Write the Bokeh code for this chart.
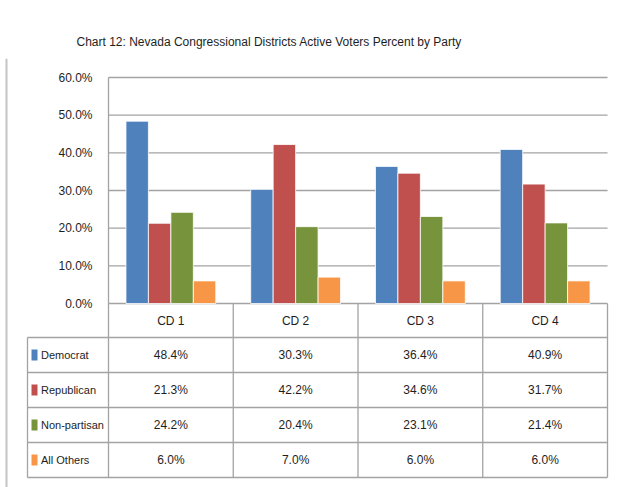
from bokeh.plotting import figure
from bokeh.models import ColumnDataSource, Range1d, FixedTicker, PrintfTickFormatter, LinearAxis
from bokeh.core.properties import value
from bokeh.embed import file_html
from bokeh.resources import INLINE

# ---------------- data ----------------
categories = ["CD 1", "CD 2", "CD 3", "CD 4"]
parties = ["Democrat", "Republican", "Non-partisan", "All Others"]
democrat = [48.4, 30.3, 36.4, 40.9]
republican = [21.3, 42.2, 34.6, 31.7]
non_partisan = [24.2, 20.4, 23.1, 21.4]
all_others = [6.0, 7.0, 6.0, 6.0]
y_ticks = [0, 10, 20, 30, 40, 50, 60]
title_text = "Chart 12: Nevada Congressional Districts Active Voters Percent by Party"

series = [democrat, republican, non_partisan, all_others]
colors = ["#4F81BD", "#C0504D", "#77933C", "#F79646"]

FONT = "Liberation Sans"
GRID = "#a3a3a3"
TEXT = "#1e1e1e"

# ---------------- geometry (pixels -> data units) ----------------
W, H = 617, 487
TOP = 58                      # title panel height
PLOT_LEFT = 108               # px of plot-area left edge
ZERO_Y = 303                  # px of the 0% line
PX_X = 124.75                 # px per category
PX_Y = 226 / 60               # px per percent
x_start = -PLOT_LEFT / PX_X
x_end = (W - PLOT_LEFT) / PX_X
y_end = (ZERO_Y - TOP) / PX_Y
y_start = -(H - ZERO_Y) / PX_Y
HEAD_H = 34 / PX_Y
ROW_H = 35 / PX_Y

p = figure(width=W, height=H, output_backend="svg", toolbar_location=None,
           x_range=Range1d(x_start, x_end), y_range=Range1d(y_start, y_end),
           x_axis_location=None, y_axis_location=None,
           min_border_left=0, min_border_right=0, min_border_top=TOP, min_border_bottom=0,
           title=title_text)
p.outline_line_color = None
p.grid.visible = False
p.title.align = "left"
p.title.offset = 76
p.title.standoff = 20
p.title.text_font = FONT
p.title.text_font_size = "12px"
p.title.text_font_style = "normal"
p.title.text_color = TEXT

# y axis drawn at the left edge of the plot area
ya = LinearAxis(fixed_location=0, ticker=FixedTicker(ticks=y_ticks),
                formatter=PrintfTickFormatter(format="%.1f%%"), bounds=(0, 60))
ya.axis_line_color = GRID
ya.axis_line_width = 1.3
ya.major_tick_line_color = None
ya.minor_tick_line_color = None
ya.major_label_text_font = FONT
ya.major_label_text_font_size = "12px"
ya.major_label_text_color = TEXT
ya.major_label_standoff = 10
p.add_layout(ya, "left")

# horizontal gridlines across plot area
p.segment(x0=[0] * len(y_ticks), y0=y_ticks, x1=[4] * len(y_ticks), y1=y_ticks,
          line_color=GRID, line_width=1.3)

# bars
offsets = [-0.27, -0.09, 0.09, 0.27]
for vals, off, col in zip(series, offsets, colors):
    src = ColumnDataSource(dict(x=[i + 0.5 + off for i in range(len(categories))], top=vals))
    p.vbar(x="x", top="top", bottom=0, width=0.18, source=src,
           fill_color=col, line_color="white", line_width=0.8)

# ---------------- data table ----------------
row_edges = [-HEAD_H - k * ROW_H for k in range(5)]     # below header
t_left = (27 - PLOT_LEFT) / PX_X
p.segment(x0=[t_left] * 5, y0=row_edges, x1=[4] * 5, y1=row_edges, line_color=GRID, line_width=1.3)
vx = [0, 1, 2, 3, 4]
p.segment(x0=vx, y0=[row_edges[-1]] * 5, x1=vx, y1=[0] * 5, line_color=GRID, line_width=1.3)
p.segment(x0=[t_left], y0=[row_edges[-1]], x1=[t_left], y1=[row_edges[0]],
          line_color=GRID, line_width=1.3)
# outer chart border on the left
bx = (6 - PLOT_LEFT) / PX_X
p.segment(x0=[bx], y0=[y_start], x1=[bx], y1=[y_end], line_color="#c4c4c4", line_width=2)

# header labels
hsrc = ColumnDataSource(dict(x=[i + 0.5 for i in range(len(categories))],
                             y=[-HEAD_H / 2] * len(categories), text=categories))
p.text(x="x", y="y", text="text", source=hsrc, text_align="center", text_baseline="middle",
       text_font=value(FONT), text_font_size="12px", text_color=TEXT)

# values
row_centers = [-HEAD_H - (r + 0.5) * ROW_H for r in range(len(parties))]
xs, ys, txt = [], [], []
for r, vals in enumerate(series):
    for c, v in enumerate(vals):
        xs.append(c + 0.5)
        ys.append(row_centers[r])
        txt.append(f"{v:.1f}%")
vsrc = ColumnDataSource(dict(x=xs, y=ys, text=txt))
p.text(x="x", y="y", text="text", source=vsrc, text_align="center", text_baseline="middle",
       text_font=value(FONT), text_font_size="12px", text_color=TEXT)

# legend keys + labels
lsrc = ColumnDataSource(dict(x=[(34 - PLOT_LEFT) / PX_X] * 4, xt=[(40.5 - PLOT_LEFT) / PX_X] * 4,
                             y=row_centers, text=parties, color=colors))
p.rect(x="x", y="y", width=6, height=11, width_units="screen", height_units="screen",
       source=lsrc, fill_color="color", line_color=None)
p.text(x="xt", y="y", text="text", source=lsrc, text_align="left", text_baseline="middle",
       text_font=value(FONT), text_font_size="11px", text_color=TEXT)

open("out.html", "w").write(file_html(p, INLINE))
